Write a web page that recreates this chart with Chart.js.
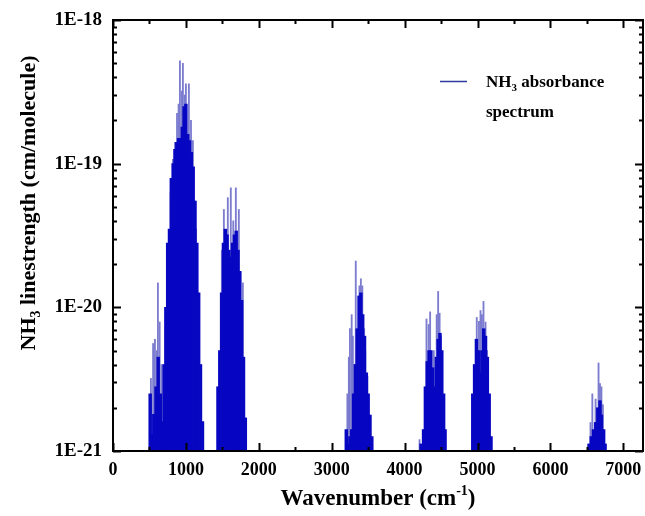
<!DOCTYPE html>
<html><head><meta charset="utf-8">
<script src="https://cdn.jsdelivr.net/npm/chart.js@4.4.1/dist/chart.umd.min.js"></script>
<style>html,body{margin:0;padding:0;background:#fff}canvas{display:block}</style>
</head><body>
<canvas id="c" width="645" height="516"></canvas>
<script>
// ---- data ----
const xTicks = [0, 1000, 2000, 3000, 4000, 5000, 6000, 7000];
const yTicks = [1e-21, 1e-20, 1e-19, 1e-18];

// dense band envelope (dark lines), wavenumber in cm-1, linestrength in cm/molecule
const bandWavenumbers = [
  510, 530, 560, 590, 620, 650, 680,
  700, 725, 750, 775, 800, 825, 850, 875, 900, 925, 950, 975, 1000, 1025, 1050, 1075, 1100, 1125, 1150, 1175, 1200, 1225,
  1440, 1465, 1490, 1515, 1540, 1565, 1590, 1615, 1640, 1665, 1690, 1715, 1740, 1765, 1790, 1815,
  3200, 3225, 3250, 3275, 3300, 3325, 3350, 3375, 3400, 3425, 3450, 3475, 3500, 3525, 3550,
  4225, 4260, 4285, 4310, 4335, 4360, 4385, 4410, 4435, 4460, 4485, 4510, 4535, 4555,
  4935, 4960, 4985, 5010, 5035, 5060, 5085, 5110, 5135, 5160, 5185,
  6530, 6560, 6590, 6620, 6650, 6680, 6700, 6730, 6750
];
const bandStrengths = [
  2.5e-21, 1.3e-21, 1.8e-21, 2.8e-21, 4.5e-21, 2.5e-21, 1.6e-21,
  4.0e-21, 1.0e-20, 2.8e-20, 3.5e-20, 7.9e-20, 1.0e-19, 1.26e-19, 1.41e-19, 1.5e-19, 1.5e-19, 1.8e-19, 2.5e-19, 2.6e-19, 1.6e-19, 1.45e-19, 1.2e-19, 9.5e-20, 5.5e-20, 2.8e-20, 1.26e-20, 4.0e-21, 1.6e-21,
  2.8e-21, 5.0e-21, 1.26e-20, 2.8e-20, 3.5e-20, 3.2e-20, 2.5e-20, 2.24e-20, 2.8e-20, 3.2e-20, 3.4e-20, 2.5e-20, 1.78e-20, 1.12e-20, 4.5e-21, 1.7e-21,
  1.41e-21, 1.12e-21, 1.26e-21, 1.41e-21, 2.5e-21, 4.0e-21, 7.1e-21, 1.2e-20, 1.26e-20, 8.9e-21, 6.3e-21, 3.5e-21, 2.5e-21, 1.78e-21, 1.26e-21,
  1.12e-21, 1.41e-21, 2.8e-21, 4.2e-21, 5.0e-21, 5.0e-21, 3.8e-21, 2.8e-21, 4.5e-21, 6.0e-21, 6.6e-21, 5.0e-21, 2.5e-21, 1.41e-21,
  2.5e-21, 4.0e-21, 6.0e-21, 5.0e-21, 3.5e-21, 5.0e-21, 7.1e-21, 6.3e-21, 4.5e-21, 2.5e-21, 1.26e-21,
  1.12e-21, 1.26e-21, 1.41e-21, 1.58e-21, 2.0e-21, 2.24e-21, 1.78e-21, 1.41e-21, 1.12e-21
];

// strongest individual lines (thin, lighter)
const peakWavenumbers = [
  520, 550, 575, 600, 616, 640, 665,
  790, 822, 850, 878, 900, 918, 945, 959, 985, 1000, 1041, 1070, 1096, 1140, 1240,
  1493, 1521, 1575, 1616, 1650, 1685, 1726, 1781,
  3215, 3235, 3250, 3274, 3290, 3310, 3330, 3380, 3400, 3420, 3445, 3460, 3490,
  4205, 4300, 4330, 4350, 4400, 4440, 4460, 4480, 4500,
  4990, 5020, 5041, 5060, 5082, 5110, 5130,
  6550, 6575, 6620, 6660, 6680, 6700, 6720
];
const peakStrengths = [
  3.2e-21, 5.6e-21, 6.0e-21, 5.0e-21, 1.48e-20, 7.9e-21, 4.0e-21,
  6.3e-20, 1.07e-19, 1.41e-19, 2.24e-19, 2.6e-19, 5.2e-19, 3.2e-19, 5.0e-19, 3.0e-19, 3.6e-19, 3.6e-19, 2.0e-19, 1.45e-19, 3.5e-20, 1.6e-21,
  2.5e-20, 4.8e-20, 5.8e-20, 6.8e-20, 4.0e-20, 6.8e-20, 4.8e-20, 1.48e-20,
  2.5e-21, 4.5e-21, 7.1e-21, 8.9e-21, 6.3e-21, 4.0e-21, 2.1e-20, 1.41e-20, 1.58e-20, 1.41e-20, 7.1e-21, 5.0e-21, 3.3e-21,
  1.2e-21, 8.3e-21, 7.6e-21, 9.3e-21, 5.0e-21, 8.9e-21, 1.29e-20, 9.1e-21, 6.3e-21,
  8.5e-21, 8.0e-21, 9.5e-21, 8.9e-21, 1.1e-20, 7.9e-21, 5.0e-21,
  1.58e-21, 2.5e-21, 2.3e-21, 4.1e-21, 2.95e-21, 2.8e-21, 2.1e-21
];

const xRange = [0, 7270];
const legendParts = [['NH', '3', ' absorbance'], ['spectrum']];
const xTitleParts = ['Wavenumber (cm', '-1', ')'];
const yTitleParts = ['NH', '3', ' linestrength (cm/molecule)'];

// ---- styling ----
const FONT = "'Liberation Serif', 'Times New Roman', serif";
const DARK = '#0707c2';
const LIGHT = 'rgba(118,118,205,0.95)';
const yMin = yTicks[0], yMax = yTicks[yTicks.length - 1];

const darkData = bandWavenumbers.map((w, i) => ({x: w, y: [yMin, bandStrengths[i]]}));
const peakData = peakWavenumbers.map((w, i) => ({x: w, y: [yMin, peakStrengths[i]]}));

function drawParts(ctx, parts, x, y, size, mode, align) {
  const big = 'bold ' + size + 'px ' + FONT;
  const small = 'bold ' + Math.round(size * 0.62) + 'px ' + FONT;
  const widths = parts.map((p, i) => { ctx.font = (i === 1 ? small : big); return ctx.measureText(p).width; });
  const total = widths.reduce((a, b) => a + b, 0);
  let cx = align === 'center' ? x - total / 2 : x;
  parts.forEach((p, i) => {
    ctx.font = (i === 1 ? small : big);
    let dy = 0;
    if (i === 1) dy = mode === 'sub' ? size * 0.22 : -size * 0.42;
    ctx.fillText(p, cx, y + dy);
    cx += widths[i];
  });
}

const decorPlugin = {
  id: 'decor',
  afterDatasetsDraw(chart) {
    const {ctx, chartArea: {left, right, top, bottom}, scales: {x, y}} = chart;
    ctx.save();
    ctx.strokeStyle = '#000';
    ctx.lineWidth = 2;
    ctx.strokeRect(left, top, right - left, bottom - top);
    ctx.beginPath();
    xTicks.forEach((v) => {
      const px = Math.round(x.getPixelForValue(v)) + 0.5;
      ctx.moveTo(px, bottom); ctx.lineTo(px, bottom - 8);
      ctx.moveTo(px, top); ctx.lineTo(px, top + 8);
      const mid = v + (xTicks[1] - xTicks[0]) / 2;
      if (mid < xRange[1]) {
        const pm = Math.round(x.getPixelForValue(mid)) + 0.5;
        ctx.moveTo(pm, bottom); ctx.lineTo(pm, bottom - 4);
        ctx.moveTo(pm, top); ctx.lineTo(pm, top + 4);
      }
    });
    yTicks.forEach(d => {
      for (let m = 1; m <= 9; m++) {
        const v = m * d;
        if (v > yMax * 1.0001) break;
        const py = Math.round(y.getPixelForValue(v)) + 0.5;
        const len = m === 1 ? 8 : 4;
        ctx.moveTo(left, py); ctx.lineTo(left + len, py);
        ctx.moveTo(right, py); ctx.lineTo(right - len, py);
      }
    });
    ctx.stroke();

    ctx.fillStyle = '#000';
    ctx.textBaseline = 'alphabetic';
    ctx.textAlign = 'left';
    drawParts(ctx, xTitleParts, (left + right) / 2, 505, 23, 'sup', 'center');
    ctx.save();
    ctx.translate(35, 203);
    ctx.rotate(-Math.PI / 2);
    drawParts(ctx, yTitleParts, 0, 0, 22, 'sub', 'center');
    ctx.restore();

    ctx.strokeStyle = '#2b3a9c';
    ctx.lineWidth = 1.5;
    ctx.beginPath();
    ctx.moveTo(440, 81.5); ctx.lineTo(467, 81.5);
    ctx.stroke();
    ctx.fillStyle = '#000';
    drawParts(ctx, legendParts[0], 486, 87, 17, 'sub', 'left');
    drawParts(ctx, legendParts[1], 486, 117, 17, 'sub', 'left');
    ctx.restore();
  }
};

new Chart(document.getElementById('c'), {
  type: 'bar',
  data: {
    datasets: [
      {label: 'NH3 absorbance spectrum', data: darkData, backgroundColor: DARK, barThickness: 2.8, grouped: false},
      {label: 'lines', data: peakData, backgroundColor: LIGHT, barThickness: 1.2, grouped: false}
    ]
  },
  options: {
    responsive: false,
    animation: false,
    devicePixelRatio: 1,
    layout: {padding: {top: 20, right: 2, left: 0, bottom: 0}},
    plugins: {legend: {display: false}, tooltip: {enabled: false}},
    scales: {
      x: {
        type: 'linear', min: xRange[0], max: xRange[1], offset: false,
        grid: {display: false, drawTicks: false}, border: {display: false},
        afterBuildTicks: s => { s.ticks = xTicks.map(v => ({value: v})); },
        afterFit: s => { s.height = 65; s.paddingLeft = 0; s.paddingRight = 0; },
        ticks: {padding: 9, color: '#000', font: {family: FONT, weight: 'bold', size: 18}, maxRotation: 0, autoSkip: false,
          callback: v => String(v)}
      },
      y: {
        type: 'logarithmic', min: yMin, max: yMax, beginAtZero: false,
        grid: {display: false, drawTicks: false}, border: {display: false},
        afterBuildTicks: s => { s.ticks = yTicks.map(v => ({value: v})); },
        afterFit: s => { s.width = 113; s.paddingTop = 0; s.paddingBottom = 0; },
        ticks: {padding: 11, color: '#000', font: {family: FONT, weight: 'bold', size: 19},
          callback: v => '1E' + Math.round(Math.log10(v))}
      }
    }
  },
  plugins: [decorPlugin]
});
</script>
</body></html>
